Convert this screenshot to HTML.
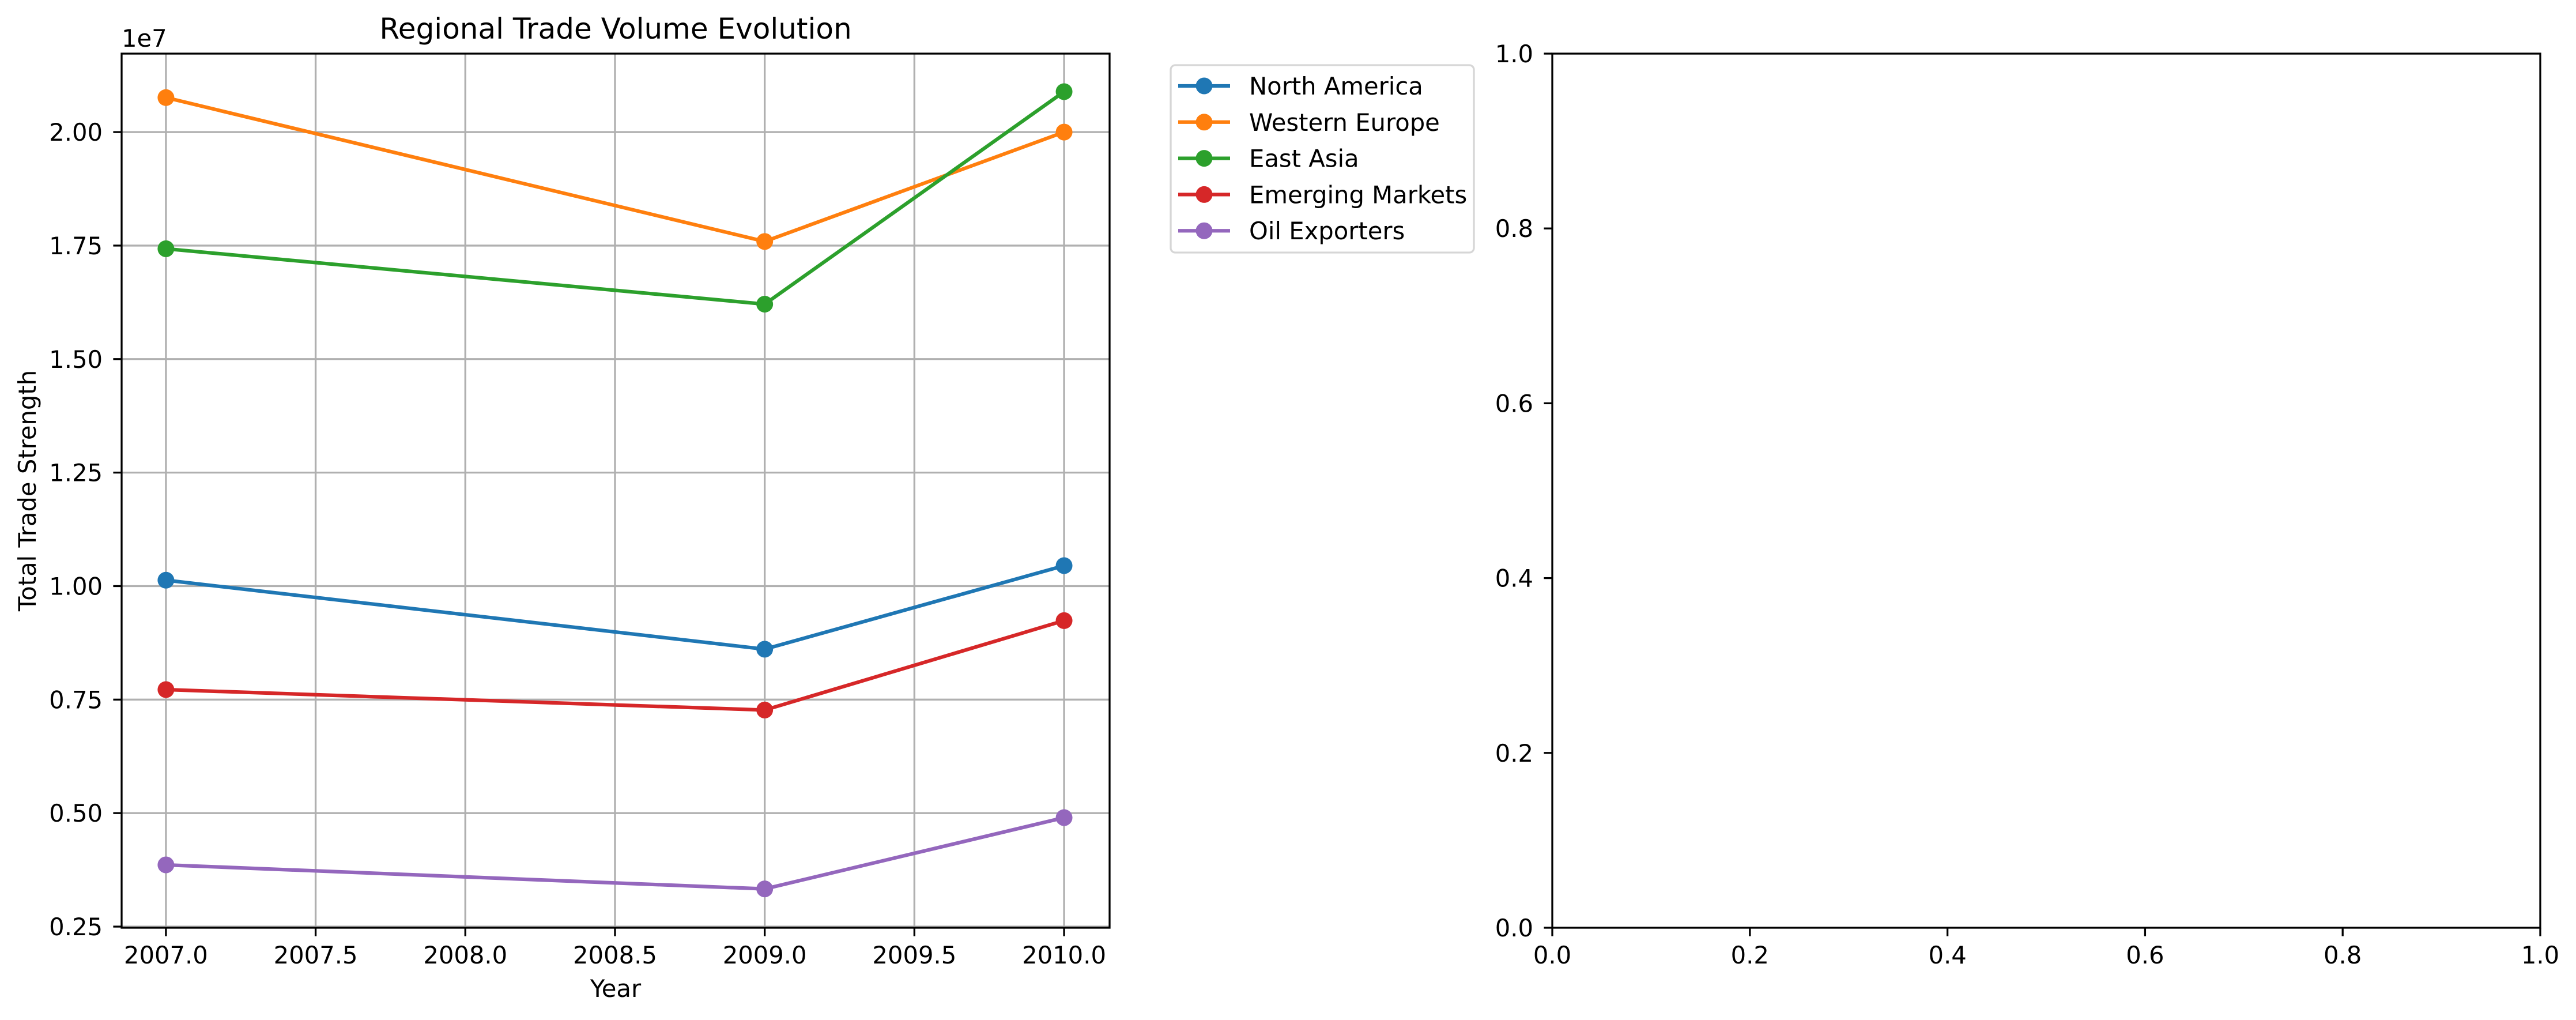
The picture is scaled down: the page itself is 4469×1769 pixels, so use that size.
<!DOCTYPE html>
<html><head><meta charset="utf-8"><style>
html,body{margin:0;padding:0;background:#fff;}
svg{display:block;font-family:"DejaVu Sans","Liberation Sans",sans-serif;}
</style></head><body>
<svg id="fig" width="4469" height="1769" viewBox="0 0 4469 1769" xmlns="http://www.w3.org/2000/svg">
<rect x="0" y="0" width="4469" height="1769" fill="#fff"/>
<g id="left"></g>
<g id="right"></g>
</svg>
<script>
const years = [2007, 2009, 2010];
const seriesNames = ["North America","Western Europe","East Asia","Emerging Markets","Oil Exporters"];
const seriesColors = ["#1f77b4","#ff7f0e","#2ca02c","#d62728","#9467bd"];
const northAmerica = [1.013e7, 0.861e7, 1.045e7];
const westernEurope = [2.076e7, 1.759e7, 2.000e7];
const eastAsia = [1.743e7, 1.621e7, 2.089e7];
const emergingMarkets = [0.772e7, 0.727e7, 0.924e7];
const oilExporters = [0.386e7, 0.333e7, 0.490e7];
const xTicks = [2007.0, 2007.5, 2008.0, 2008.5, 2009.0, 2009.5, 2010.0];
const yTicks = [0.25, 0.50, 0.75, 1.00, 1.25, 1.50, 1.75, 2.00];
const rTicks = [0.0, 0.2, 0.4, 0.6, 0.8, 1.0];

const NS = "http://www.w3.org/2000/svg";
function mk(parent, tag, attrs, text){
  const e = document.createElementNS(NS, tag);
  for (const k in attrs) e.setAttribute(k, attrs[k]);
  if (text !== undefined) e.textContent = text;
  parent.appendChild(e);
  return e;
}
const FS = 41.7;
const MR = 14.5;
const L = {x0:211, x1:1925, y0:93, y1:1609};
const xMin = 2006.852, xMax = 2010.152;
const yMin = 0.2475, yMax = 2.1728;
const sx = v => L.x0 + (v - xMin) / (xMax - xMin) * (L.x1 - L.x0);
const sy = v => L.y1 - (v / 1e7 - yMin) / (yMax - yMin) * (L.y1 - L.y0);
const syT = t => L.y1 - (t - yMin) / (yMax - yMin) * (L.y1 - L.y0);
const lg = document.getElementById('left');

xTicks.forEach(t => {
  const g = mk(lg, 'line', {x1:sx(t), x2:sx(t), y1:L.y0, y2:L.y1, stroke:'#b0b0b0', 'stroke-width':3.3});
  
  
  const tk = mk(lg, 'line', {x1:sx(t), x2:sx(t), y1:L.y1, y2:L.y1+14.6, stroke:'#000', 'stroke-width':3.3});
  
  
  const lb = mk(lg, 'text', {x:sx(t), y:1671, 'font-size':FS, 'text-anchor':'middle'}, t.toFixed(1));
  
  
});
yTicks.forEach(t => {
  const g = mk(lg, 'line', {x1:L.x0, x2:L.x1, y1:syT(t), y2:syT(t), stroke:'#b0b0b0', 'stroke-width':3.3});
  
  
  const tk = mk(lg, 'line', {x1:L.x0-14.6, x2:L.x0, y1:syT(t), y2:syT(t), stroke:'#000', 'stroke-width':3.3});
  
  
  const lb = mk(lg, 'text', {x:L.x0-33, y:syT(t)+15, 'font-size':FS, 'text-anchor':'end'}, t.toFixed(2));
  
  
});
const allSeries = [northAmerica, westernEurope, eastAsia, emergingMarkets, oilExporters];
allSeries.forEach((vals, i) => {
  const pts = vals.map((v, j) => sx(years[j]) + ',' + sy(v)).join(' ');
  const pl = mk(lg, 'polyline', {points:pts, fill:'none', stroke:seriesColors[i], 'stroke-width':6.25, 'stroke-linejoin':'round', 'stroke-linecap':'square'});
  
  
  vals.forEach((v, j) => {
    const c = mk(lg, 'circle', {cx:sx(years[j]), cy:sy(v), r:MR, fill:seriesColors[i]});
    
    
  });
});
const frame = mk(lg, 'rect', {x:L.x0, y:L.y0, width:L.x1-L.x0, height:L.y1-L.y0, fill:'none', stroke:'#000', 'stroke-width':3.3});


const ttl = mk(lg, 'text', {x:(L.x0+L.x1)/2, y:67, 'font-size':50, 'text-anchor':'middle'}, 'Regional Trade Volume Evolution');


const off = mk(lg, 'text', {x:211, y:81, 'font-size':FS}, '1e7');


const xl = mk(lg, 'text', {x:(L.x0+L.x1)/2, y:1729, 'font-size':FS, 'text-anchor':'middle'}, 'Year');


const yl = mk(lg, 'text', {x:0, y:0, 'font-size':FS, 'text-anchor':'middle', transform:'translate(62,'+((L.y0+L.y1)/2)+') rotate(-90)'}, 'Total Trade Strength');



const leg = mk(lg, 'g', {});


const lbox = mk(leg, 'rect', {x:2031, y:113, width:526, height:325, rx:8, fill:'#fff', stroke:'#d6d6d6', 'stroke-width':3.3});


seriesNames.forEach((n, i) => {
  const y = 149 + i * 62.8;
  const eg = mk(leg, 'g', {});
  
  
  mk(eg, 'line', {x1:2044, x2:2134, y1:y, y2:y, stroke:seriesColors[i], 'stroke-width':6.25});
  mk(eg, 'circle', {cx:2089, cy:y, r:MR, fill:seriesColors[i]});
  mk(eg, 'text', {x:2167, y:y+15, 'font-size':FS}, n);
});

const R = {x0:2693, x1:4407, y0:93, y1:1609};
const rg = document.getElementById('right');
rTicks.forEach(t => {
  const x = R.x0 + t * (R.x1 - R.x0);
  const y = R.y1 - t * (R.y1 - R.y0);
  const tx = mk(rg, 'line', {x1:x, x2:x, y1:R.y1, y2:R.y1+14.6, stroke:'#000', 'stroke-width':3.3});
  
  
  const lx = mk(rg, 'text', {x:x, y:1671, 'font-size':FS, 'text-anchor':'middle'}, t.toFixed(1));
  
  
  const ty = mk(rg, 'line', {x1:R.x0-14.6, x2:R.x0, y1:y, y2:y, stroke:'#000', 'stroke-width':3.3});
  
  
  const ly = mk(rg, 'text', {x:R.x0-33, y:y+15, 'font-size':FS, 'text-anchor':'end'}, t.toFixed(1));
  
  
});
const rf = mk(rg, 'rect', {x:R.x0, y:R.y0, width:R.x1-R.x0, height:R.y1-R.y0, fill:'none', stroke:'#000', 'stroke-width':3.3});


</script>
</body></html>
